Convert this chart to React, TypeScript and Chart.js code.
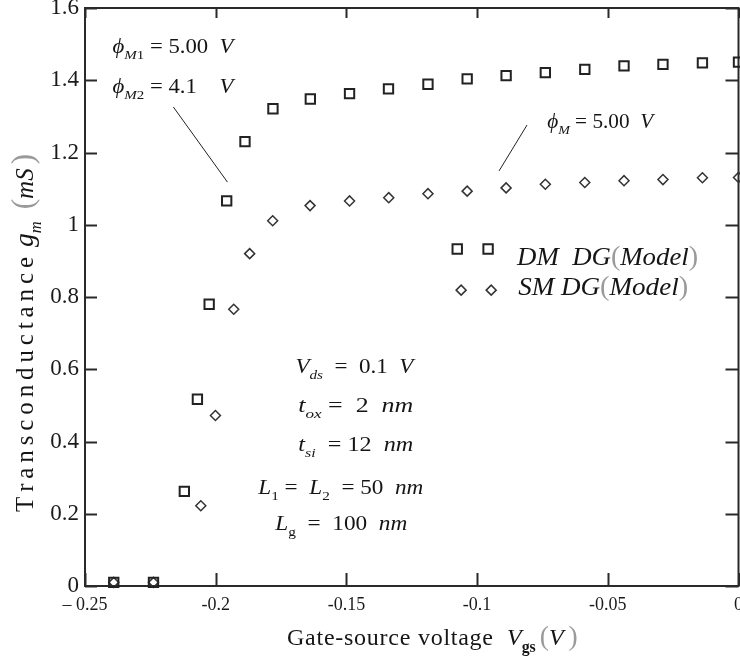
import React, { useEffect, useRef } from 'react';
import { Chart, registerables } from 'chart.js';

Chart.register(...registerables);

const FONT = '"Liberation Serif", "Times New Roman", serif';

// ---- data ----
const dmVgs = [-0.239, -0.2238, -0.212, -0.207, -0.2025, -0.1958, -0.1888, -0.1781, -0.1638, -0.1488, -0.1339, -0.1188, -0.1038, -0.0889, -0.0739, -0.0588, -0.0438, -0.0289, -0.0138, 0];
const dmGm = [0.01, 0.01, 0.262, 0.517, 0.78, 1.066, 1.23, 1.321, 1.348, 1.363, 1.376, 1.389, 1.404, 1.413, 1.421, 1.43, 1.44, 1.444, 1.448, 1.45];
const smVgs = [-0.239, -0.2238, -0.2057, -0.2001, -0.1931, -0.187, -0.1782, -0.1639, -0.1488, -0.1338, -0.1188, -0.1038, -0.0889, -0.0739, -0.0588, -0.0438, -0.0289, -0.0138, 0];
const smGm = [0.01, 0.01, 0.222, 0.472, 0.766, 0.92, 1.011, 1.053, 1.066, 1.075, 1.086, 1.093, 1.102, 1.112, 1.117, 1.122, 1.125, 1.13, 1.131];

const xTickValues = [-0.25, -0.2, -0.15, -0.1, -0.05, 0];
const xTickLabels = ['\u2013 0.25', '-0.2', '-0.15', '-0.1', '-0.05', '0'];
const yTickValues = [0, 0.2, 0.4, 0.6, 0.8, 1, 1.2, 1.4, 1.6];
const yTickLabels = ['0', '0.2', '0.4', '0.6', '0.8', '1', '1.2', '1.4', '1.6'];

const seriesNames = ['DM DG(Model)', 'SM DG(Model)'];

// ---- rich text helper ----
type Run = { t?: string; it?: boolean; sub?: boolean; bold?: boolean; sz?: number; col?: string; gap?: number; fitW?: number };

function runFont(r: Run, base: number) {
  const size = (r.sz ?? 1) * base * (r.sub ? 0.66 : 1);
  return `${r.it ? 'italic ' : ''}${r.bold ? 'bold ' : ''}${size}px ${FONT}`;
}

function runWidth(ctx: CanvasRenderingContext2D, r: Run, base: number) {
  if (r.gap) return r.gap;
  if (r.fitW) return r.fitW;
  ctx.font = runFont(r, base);
  return ctx.measureText(r.t || '').width;
}

function drawRuns(ctx: CanvasRenderingContext2D, runs: Run[], x: number, y: number, base: number, targetW?: number) {
  let natural = 0;
  for (const r of runs) natural += runWidth(ctx, r, base);
  const sx = targetW ? targetW / natural : 1;
  ctx.save();
  ctx.translate(x, y);
  ctx.scale(sx, 1);
  ctx.textBaseline = 'alphabetic';
  ctx.textAlign = 'left';
  let cx = 0;
  for (const r of runs) {
    if (r.gap) { cx += r.gap; continue; }
    const t = r.t || '';
    ctx.font = runFont(r, base);
    ctx.fillStyle = r.col || '#151515';
    const dy = r.sub ? base * 0.3 : 0;
    if (r.fitW) {
      const chars = Array.from(t);
      const widths = chars.map((c) => ctx.measureText(c).width);
      const sum = widths.reduce((a, b) => a + b, 0);
      const ls = chars.length > 1 ? (r.fitW - sum) / (chars.length - 1) : 0;
      let px = cx;
      chars.forEach((c, i) => { ctx.fillText(c, px, dy); px += widths[i] + ls; });
      cx += r.fitW;
    } else {
      ctx.fillText(t, cx, dy);
      cx += ctx.measureText(t).width;
    }
  }
  ctx.restore();
}

const PHI = '\u03D5';

// annotations placed in data coordinates: x = left edge, y = baseline, w = width in px
type Note = { x: number; y: number; w: number; size: number; runs: Run[] };
const notes: Note[] = [
  { x: -0.2395, y: 1.476, w: 121, size: 20, runs: [{ t: PHI, it: true }, { t: 'M', it: true, sub: true }, { t: '1', sub: true }, { t: ' = 5.00  ' }, { t: 'V', it: true }] },
  { x: -0.2395, y: 1.366, w: 121, size: 20, runs: [{ t: PHI, it: true }, { t: 'M', it: true, sub: true }, { t: '2', sub: true }, { t: ' = 4.1    ' }, { t: 'V', it: true }] },
  { x: -0.0732, y: 1.267, w: 106, size: 20, runs: [{ t: PHI, it: true }, { t: 'M', it: true, sub: true }, { t: ' = 5.00  ' }, { t: 'V', it: true }] },
  { x: -0.1695, y: 0.59, w: 118, size: 20, runs: [{ t: 'V', it: true }, { t: 'ds', it: true, sub: true }, { t: '  =  0.1  ' }, { t: 'V', it: true }] },
  { x: -0.1684, y: 0.482, w: 115, size: 20, runs: [{ t: 't', it: true }, { t: 'ox', it: true, sub: true }, { t: ' =  2  ' }, { t: 'nm', it: true }] },
  { x: -0.1684, y: 0.374, w: 115, size: 20, runs: [{ t: 't', it: true }, { t: 'si', it: true, sub: true }, { t: '  = 12  ' }, { t: 'nm', it: true }] },
  { x: -0.1837, y: 0.254, w: 165, size: 20, runs: [{ t: 'L', it: true }, { t: '1', sub: true }, { t: ' =  ' }, { t: 'L', it: true }, { t: '2', sub: true }, { t: '  = 50  ' }, { t: 'nm', it: true }] },
  { x: -0.1772, y: 0.1547, w: 132, size: 20, runs: [{ t: 'L', it: true }, { t: 'g', sub: true }, { t: '  =  100  ' }, { t: 'nm', it: true }] },
];
const leaders = [
  [-0.2162, 1.326, -0.1955, 1.118],
  [-0.0809, 1.276, -0.0916, 1.149],
];
// legend: marker x values, marker y, text left x, text baseline y, width
const legendRows = [
  { mx: [-0.1076, -0.0958], my: 0.9327, tx: -0.0847, ty: 0.8884, w: 181, style: 'rect' },
  { mx: [-0.1061, -0.0946], my: 0.819, tx: -0.0843, ty: 0.805, w: 170, style: 'rectRot' },
];

function drawMarker(ctx: CanvasRenderingContext2D, style: string, x: number, y: number) {
  ctx.beginPath();
  if (style === 'rect') {
    const s = 4.7;
    ctx.rect(x - s, y - s, 2 * s, 2 * s);
    ctx.strokeStyle = '#222';
    ctx.lineWidth = 2;
  } else {
    const r = 5;
    ctx.moveTo(x - r, y); ctx.lineTo(x, y - r); ctx.lineTo(x + r, y); ctx.lineTo(x, y + r); ctx.closePath();
    ctx.strokeStyle = '#333';
    ctx.lineWidth = 1.5;
  }
  ctx.stroke();
}

const decorPlugin = {
  id: 'decor',
  beforeDatasetsDraw(chart: any) {
    const { ctx, chartArea: a, scales } = chart;
    const x = scales.x, y = scales.y;
    ctx.save();
    ctx.strokeStyle = '#2a2a2a';
    ctx.lineWidth = 2;
    ctx.strokeRect(a.left, a.top, a.right - a.left, a.bottom - a.top);
    ctx.beginPath();
    x.ticks.forEach((_t: any, i: number) => {
      const p = Math.round(x.getPixelForTick(i)) + 0.5;
      ctx.moveTo(p, a.bottom); ctx.lineTo(p, a.bottom - 13);
      ctx.moveTo(p, a.top); ctx.lineTo(p, a.top + 10);
    });
    y.ticks.forEach((_t: any, i: number) => {
      const p = Math.round(y.getPixelForTick(i)) + 0.5;
      ctx.moveTo(a.left, p); ctx.lineTo(a.left + 12, p);
      ctx.moveTo(a.right, p); ctx.lineTo(a.right - 13, p);
    });
    ctx.stroke();
    ctx.restore();
  },
  afterDraw(chart: any) {
    const { ctx, scales } = chart;
    const x = scales.x, y = scales.y;
    ctx.save();
    // leader lines
    ctx.strokeStyle = '#222';
    ctx.lineWidth = 1;
    leaders.forEach(([x1, y1, x2, y2]) => {
      ctx.beginPath();
      ctx.moveTo(x.getPixelForValue(x1), y.getPixelForValue(y1));
      ctx.lineTo(x.getPixelForValue(x2), y.getPixelForValue(y2));
      ctx.stroke();
    });
    // annotations
    notes.forEach((n) => drawRuns(ctx, n.runs, x.getPixelForValue(n.x), y.getPixelForValue(n.y), n.size, n.w));
    // legend
    legendRows.forEach((row, i) => {
      row.mx.forEach((mx) => drawMarker(ctx, row.style, x.getPixelForValue(mx), y.getPixelForValue(row.my)));
      const name = seriesNames[i];
      const head = name.split('(')[0];
      const runs: Run[] = [{ t: head.replace(' ', i === 0 ? '  ' : ' '), it: true }, { t: '(', col: '#9a9a9a', sz: 1.05 }, { t: 'Model', it: true }, { t: ')', col: '#9a9a9a', sz: 1.05 }];
      drawRuns(ctx, runs, x.getPixelForValue(row.tx), y.getPixelForValue(row.ty), 26, row.w);
    });
    // x axis title
    drawRuns(ctx, [
      { t: 'Gate-source voltage', fitW: 206 }, { gap: 14 },
      { t: 'V', it: true }, { t: 'gs', sub: true, bold: true }, { gap: 4 },
      { t: '(', col: '#9a9a9a', sz: 1.15 }, { t: 'V', it: true }, { gap: 5 }, { t: ')', col: '#9a9a9a', sz: 1.15 },
    ], 287, 645, 24);
    // y axis title (rotated)
    ctx.save();
    ctx.translate(33, 512);
    ctx.rotate(-Math.PI / 2);
    drawRuns(ctx, [
      { t: 'Transconductance', fitW: 255 }, { gap: 10 },
      { t: 'g', it: true, sz: 1.1 }, { t: 'm', it: true, sub: true }, { gap: 12 },
      { t: '(', col: '#9a9a9a', sz: 1.25 }, { t: 'mS', it: true }, { gap: 4 }, { t: ')', col: '#9a9a9a', sz: 1.25 },
    ], 0, 0, 25);
    ctx.restore();
    ctx.restore();
  },
};

export default function App() {
  const ref = useRef<HTMLCanvasElement | null>(null);
  useEffect(() => {
    if (!ref.current) return;
    const chart = new Chart(ref.current, {
      type: 'scatter',
      data: {
        datasets: [
          {
            label: seriesNames[0],
            data: dmVgs.map((v, i) => ({ x: v, y: dmGm[i] })),
            pointStyle: 'rect',
            radius: 6.6,
            borderColor: '#222',
            backgroundColor: 'rgba(0,0,0,0)',
            borderWidth: 2,
            showLine: false,
            clip: false as any,
          },
          {
            label: seriesNames[1],
            data: smVgs.map((v, i) => ({ x: v, y: smGm[i] })),
            pointStyle: 'rectRot',
            radius: 5,
            borderColor: '#333',
            backgroundColor: 'rgba(0,0,0,0)',
            borderWidth: 1.5,
            showLine: false,
            clip: false as any,
          },
        ],
      },
      options: {
        animation: false,
        responsive: false,
        devicePixelRatio: 1,
        events: [],
        layout: { autoPadding: false, padding: { left: 0, right: 1.5, top: 8, bottom: 0 } },
        plugins: { legend: { display: false }, tooltip: { enabled: false }, title: { display: false } },
        scales: {
          x: {
            type: 'linear',
            min: -0.25,
            max: 0,
            afterBuildTicks: (s: any) => { s.ticks = xTickValues.map((v) => ({ value: v })); },
            afterFit: (s: any) => { s.height = 72; s.paddingLeft = 0; s.paddingRight = 0; },
            ticks: {
              autoSkip: false,
              maxRotation: 0,
              padding: 8,
              color: '#1a1a1a',
              font: { family: FONT, size: 18 },
              callback: (_v: any, i: number) => xTickLabels[i],
            },
            grid: { display: false, drawTicks: false },
            border: { display: false },
          },
          y: {
            type: 'linear',
            min: 0,
            max: 1.6,
            afterBuildTicks: (s: any) => { s.ticks = yTickValues.map((v) => ({ value: v })); },
            afterFit: (s: any) => { s.width = 85; s.paddingTop = 0; s.paddingBottom = 0; },
            ticks: {
              autoSkip: false,
              padding: 6,
              color: '#1a1a1a',
              font: { family: FONT, size: 23 },
              callback: (_v: any, i: number) => yTickLabels[i],
            },
            grid: { display: false, drawTicks: false },
            border: { display: false },
          },
        },
      },
      plugins: [decorPlugin],
    });
    return () => chart.destroy();
  }, []);
  return (
    <div style={{ position: 'fixed', left: 0, top: 0, width: 740, height: 658, background: '#fff' }}>
      <canvas ref={ref} width={740} height={658} style={{ display: 'block', width: 740, height: 658 }} />
    </div>
  );
}
